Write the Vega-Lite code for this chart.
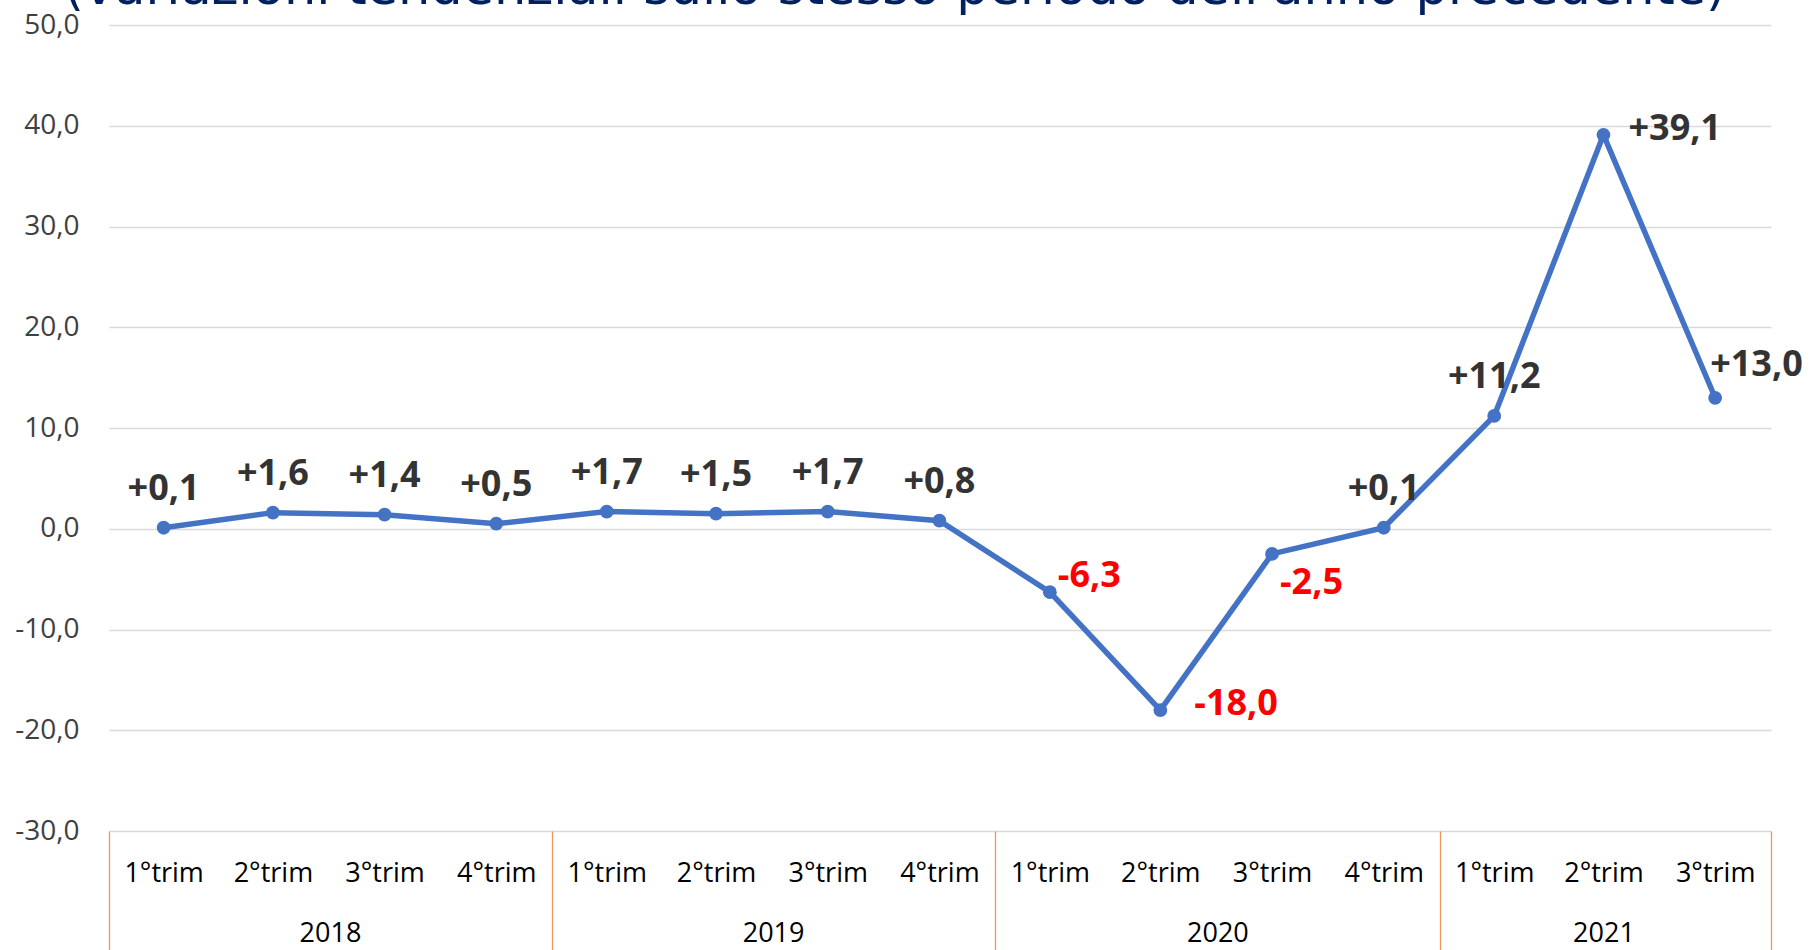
{
  "$schema": "https://vega.github.io/schema/vega-lite/v6.json",
  "width": 1662,
  "height": 806,
  "autosize": {"type": "none"},
  "padding": {"left": 109, "top": 25, "right": 41, "bottom": 119},
  "background": "white",
  "title": {
    "text": "(variazioni tendenziali sullo stesso periodo dell'anno precedente)",
    "font": "DejaVu Sans",
    "fontSize": 51,
    "fontWeight": "normal",
    "color": "#002060",
    "anchor": "middle",
    "baseline": "alphabetic",
    "offset": 0,
    "dx": -45,
    "dy": 44
  },
  "config": {
    "view": {"stroke": null},
    "locale": {"number": {"decimal": ",", "thousands": ".", "grouping": [3], "currency": ["", " €"], "minus": "-"}}
  },
  "data": {
    "values": [
      {"data": "2018-02-15", "anno": 2018, "trimestre": "1°trim", "valore": 0.1},
      {"data": "2018-05-16", "anno": 2018, "trimestre": "2°trim", "valore": 1.6},
      {"data": "2018-08-16", "anno": 2018, "trimestre": "3°trim", "valore": 1.4},
      {"data": "2018-11-16", "anno": 2018, "trimestre": "4°trim", "valore": 0.5},
      {"data": "2019-02-15", "anno": 2019, "trimestre": "1°trim", "valore": 1.7},
      {"data": "2019-05-16", "anno": 2019, "trimestre": "2°trim", "valore": 1.5},
      {"data": "2019-08-16", "anno": 2019, "trimestre": "3°trim", "valore": 1.7},
      {"data": "2019-11-16", "anno": 2019, "trimestre": "4°trim", "valore": 0.8},
      {"data": "2020-02-15", "anno": 2020, "trimestre": "1°trim", "valore": -6.3},
      {"data": "2020-05-16", "anno": 2020, "trimestre": "2°trim", "valore": -18.0},
      {"data": "2020-08-16", "anno": 2020, "trimestre": "3°trim", "valore": -2.5},
      {"data": "2020-11-16", "anno": 2020, "trimestre": "4°trim", "valore": 0.1},
      {"data": "2021-02-15", "anno": 2021, "trimestre": "1°trim", "valore": 11.2},
      {"data": "2021-05-16", "anno": 2021, "trimestre": "2°trim", "valore": 39.1},
      {"data": "2021-08-16", "anno": 2021, "trimestre": "3°trim", "valore": 13.0}
    ]
  },
  "encoding": {
    "y": {
      "field": "valore",
      "type": "quantitative",
      "scale": {"domain": [-30, 50], "nice": false, "zero": false},
      "axis": {
        "title": null,
        "values": [-30, -20, -10, 0, 10, 20, 30, 40, 50],
        "format": ".1f",
        "domain": false,
        "ticks": false,
        "labelPadding": 30,
        "labelFont": "Open Sans",
        "labelFontSize": 28,
        "labelColor": "#404040",
        "grid": true,
        "gridColor": "#D9D9D9",
        "gridWidth": 1.5
      }
    }
  },
  "layer": [
    {
      "data": {"values": [{}]},
      "mark": {"type": "rule", "color": "#F0965A", "strokeWidth": 1.3},
      "encoding": {"y": {"datum": 0}}
    },
    {
      "mark": {"type": "line", "color": "#4472C4", "strokeWidth": 5.5},
      "encoding": {
        "x": {
          "field": "data",
          "type": "temporal",
          "scale": {"type": "utc", "domain": [{"year": 2018, "month": 1, "date": 1, "utc": true}, {"year": 2021, "month": 10, "date": 1, "utc": true}]},
          "axis": {
            "orient": "bottom",
            "title": null,
            "values": [
              {"year": 2018, "month": 2, "date": 15, "utc": true}, {"year": 2018, "month": 5, "date": 16, "utc": true}, {"year": 2018, "month": 8, "date": 16, "utc": true}, {"year": 2018, "month": 11, "date": 16, "utc": true},
              {"year": 2019, "month": 2, "date": 15, "utc": true}, {"year": 2019, "month": 5, "date": 16, "utc": true}, {"year": 2019, "month": 8, "date": 16, "utc": true}, {"year": 2019, "month": 11, "date": 16, "utc": true},
              {"year": 2020, "month": 2, "date": 15, "utc": true}, {"year": 2020, "month": 5, "date": 16, "utc": true}, {"year": 2020, "month": 8, "date": 16, "utc": true}, {"year": 2020, "month": 11, "date": 16, "utc": true},
              {"year": 2021, "month": 2, "date": 15, "utc": true}, {"year": 2021, "month": 5, "date": 16, "utc": true}, {"year": 2021, "month": 8, "date": 16, "utc": true}
            ],
            "labelExpr": "(floor(utcmonth(datum.value) / 3) + 1) + '°trim'",
            "ticks": false,
            "tickSize": 0,
            "domain": false,
            "grid": false,
            "labelPadding": 42,
            "labelBaseline": "middle",
            "labelFont": "Open Sans",
            "labelFontSize": 27,
            "labelColor": "#000000",
            "labelOverlap": false,
            "labelFlush": false,
            "labelBound": false
          }
        }
      }
    },
    {
      "mark": {"type": "point", "filled": true, "opacity": 1, "color": "#4472C4", "size": 190},
      "encoding": {
        "x": {
          "field": "data",
          "type": "temporal",
          "scale": {"type": "utc", "domain": [{"year": 2018, "month": 1, "date": 1, "utc": true}, {"year": 2021, "month": 10, "date": 1, "utc": true}]},
          "axis": {
            "orient": "bottom",
            "title": null,
            "values": [
              {"year": 2018, "month": 1, "date": 1, "utc": true}, {"year": 2019, "month": 1, "date": 1, "utc": true},
              {"year": 2020, "month": 1, "date": 1, "utc": true}, {"year": 2021, "month": 1, "date": 1, "utc": true},
              {"year": 2021, "month": 10, "date": 1, "utc": true}
            ],
            "labels": false,
            "ticks": true,
            "tickSize": 125,
            "tickColor": "#F0965A",
            "tickWidth": 1.3,
            "domain": false,
            "grid": false
          }
        }
      }
    },
    {
      "transform": [{"filter": "datum.valore >= 0 && !(datum.anno == 2021 && datum.trimestre != '1°trim')"}],
      "mark": {"type": "text", "font": "Open Sans", "fontWeight": "bold", "fontSize": 36, "align": "center", "baseline": "middle", "dy": -39},
      "encoding": {
        "x": {
          "field": "data",
          "type": "temporal",
          "scale": {"type": "utc", "domain": [{"year": 2018, "month": 1, "date": 1, "utc": true}, {"year": 2021, "month": 10, "date": 1, "utc": true}]},
          "axis": {
            "orient": "bottom",
            "title": null,
            "values": [
              {"year": 2018, "month": 7, "date": 2, "utc": true}, {"year": 2019, "month": 7, "date": 2, "utc": true},
              {"year": 2020, "month": 7, "date": 2, "utc": true}, {"year": 2021, "month": 5, "date": 16, "utc": true}
            ],
            "labelExpr": "utcFormat(datum.value, '%Y')",
            "ticks": false,
            "tickSize": 0,
            "domain": false,
            "grid": false,
            "labelPadding": 102,
            "labelBaseline": "middle",
            "labelFont": "Open Sans",
            "labelFontSize": 27,
            "labelColor": "#000000",
            "labelOverlap": false,
            "labelFlush": false,
            "labelBound": false
          }
        },
        "text": {"field": "valore", "type": "quantitative", "format": "+.1f"},
        "color": {"value": "#333333"}
      }
    },
    {
      "transform": [{"filter": "datum.anno == 2021 && datum.trimestre == '2°trim'"}],
      "mark": {"type": "text", "font": "Open Sans", "fontWeight": "bold", "fontSize": 36, "align": "left", "baseline": "middle", "dx": 25, "dy": -6},
      "encoding": {
        "x": {"field": "data", "type": "temporal", "axis": null},
        "text": {"field": "valore", "type": "quantitative", "format": "+.1f"},
        "color": {"value": "#333333"}
      }
    },
    {
      "transform": [{"filter": "datum.anno == 2021 && datum.trimestre == '3°trim'"}],
      "mark": {"type": "text", "font": "Open Sans", "fontWeight": "bold", "fontSize": 36, "align": "left", "baseline": "middle", "dx": -5, "dy": -33},
      "encoding": {
        "x": {"field": "data", "type": "temporal", "axis": null},
        "text": {"field": "valore", "type": "quantitative", "format": "+.1f"},
        "color": {"value": "#333333"}
      }
    },
    {
      "transform": [{"filter": "datum.anno == 2020 && datum.trimestre == '1°trim'"}],
      "mark": {"type": "text", "font": "Open Sans", "fontWeight": "bold", "fontSize": 36, "align": "left", "baseline": "middle", "dx": 8, "dy": -16},
      "encoding": {
        "x": {"field": "data", "type": "temporal", "axis": null},
        "text": {"field": "valore", "type": "quantitative", "format": "+.1f"},
        "color": {"value": "#FF0000"}
      }
    },
    {
      "transform": [{"filter": "datum.anno == 2020 && datum.trimestre == '2°trim'"}],
      "mark": {"type": "text", "font": "Open Sans", "fontWeight": "bold", "fontSize": 36, "align": "left", "baseline": "middle", "dx": 34, "dy": -6},
      "encoding": {
        "x": {"field": "data", "type": "temporal", "axis": null},
        "text": {"field": "valore", "type": "quantitative", "format": "+.1f"},
        "color": {"value": "#FF0000"}
      }
    },
    {
      "transform": [{"filter": "datum.anno == 2020 && datum.trimestre == '3°trim'"}],
      "mark": {"type": "text", "font": "Open Sans", "fontWeight": "bold", "fontSize": 36, "align": "left", "baseline": "middle", "dx": 8, "dy": 29},
      "encoding": {
        "x": {"field": "data", "type": "temporal", "axis": null},
        "text": {"field": "valore", "type": "quantitative", "format": "+.1f"},
        "color": {"value": "#FF0000"}
      }
    }
  ],
  "resolve": {"axis": {"x": "independent"}}
}
